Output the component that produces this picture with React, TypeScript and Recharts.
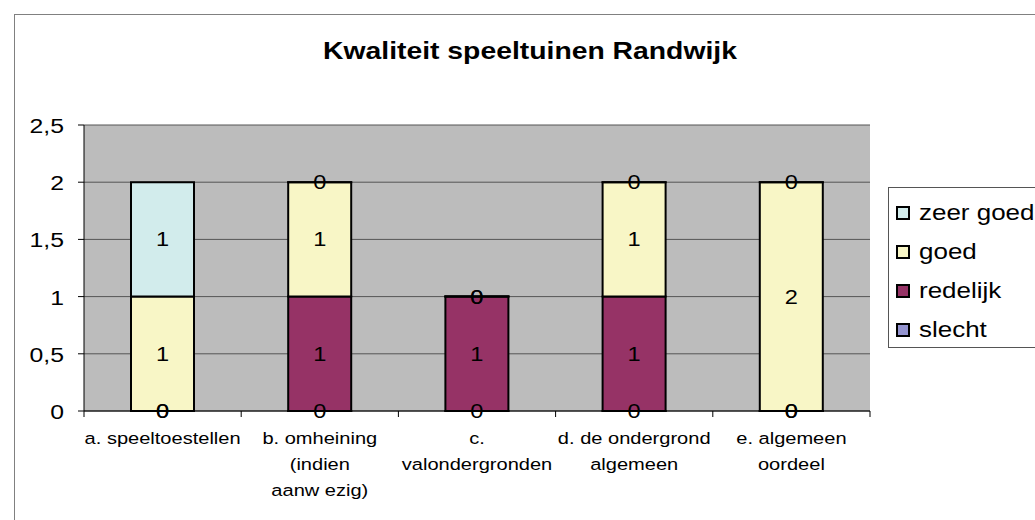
import { BarChart, Bar, CartesianGrid, XAxis, YAxis, LabelList } from "recharts";

const CATEGORIES = [
    "a. speeltoestellen",
    "b. omheining (indien aanw ezig)",
    "c. valondergronden",
    "d. de ondergrond algemeen",
    "e. algemeen oordeel",
]

// wrapped the same way as the picture
const CATEGORY_LINES = [
    ["a. speeltoestellen"],
    ["b. omheining", "(indien", "aanw ezig)"],
    ["c.", "valondergronden"],
    ["d. de ondergrond", "algemeen"],
    ["e. algemeen", "oordeel"],
]

const SLECHT = [0, 0, 0, 0, 0]
const REDELIJK = [0, 1, 1, 1, 0]
const GOED = [1, 1, 0, 1, 2]
const ZEER_GOED = [1, 0, 0, 0, 0]

const Y_TICKS = [0, 0.5, 1, 1.5, 2, 2.5]

const SERIES = [
    { key: "slecht", values: SLECHT, color: "#9494D0" },
    { key: "redelijk", values: REDELIJK, color: "#963366" },
    { key: "goed", values: GOED, color: "#F8F6C6" },
    { key: "zeer goed", values: ZEER_GOED, color: "#D2ECEC" },
]

const FONT = "'Liberation Sans', Arial, sans-serif"
// the scanned original is a bit stretched sideways
const SX = 1.18

const chartData = CATEGORIES.map((name, i) => {
    const row: Record<string, string | number> = { name, idx: i }
    for (const s of SERIES) row[s.key] = s.values[i]
    return row
})

function WideText({ x, y, size, anchor, children }: any) {
    return (
        <g transform={`translate(${x},${y}) scale(${SX},1)`}>
            <text x={0} y={0} textAnchor={anchor} fontSize={size} fontFamily={FONT} fill="#000">{children}</text>
        </g>
    )
}

function CategoryTick(props: any) {
    const { x, y, payload, index } = props
    const i = payload.index ?? index
    const lines = CATEGORY_LINES[i] || [payload.value]
    const half = payload.offset ?? 78.6
    return (
        <g>
            <line x1={x - half} x2={x - half} y1={y - 8} y2={y - 2} stroke="#000" />
            {i === CATEGORIES.length - 1 ?
                <line x1={x + half} x2={x + half} y1={y - 8} y2={y - 2} stroke="#000" /> : <></>}
            {lines.map((line: string, k: number) =>
                <WideText key={k} x={x} y={y + 25 + k * 26} size={17} anchor="middle">{line}</WideText>
            )}
        </g>
    )
}

function ValueTick(props: any) {
    const { x, y, payload } = props
    return <WideText x={x} y={y + 8} size={21} anchor="end">{String(payload.value).replace(".", ",")}</WideText>
}

function SegmentLabel(props: any) {
    const { x, y, width, height, value } = props
    return <WideText x={x + width / 2} y={y + height / 2 + 7} size={20} anchor="middle">{value}</WideText>
}

export default function App() {
    return (
        <div style={{ position: "absolute", left: 0, top: 0, width: 1035, height: 520, background: "#fff", overflow: "hidden", fontFamily: FONT }}>
            <div style={{ position: "absolute", left: 14, top: 14, width: 1100, height: 600, border: "1px solid #808080" }} />
            <div style={{ position: "absolute", left: 0, width: 1060, top: 37, textAlign: "center", fontSize: 24, fontWeight: "bold", color: "#000", transform: `scaleX(${SX})` }}>
                Kwaliteit speeltuinen Randwijk
            </div>
            <div style={{ position: "absolute" }}>
                <BarChart
                    width={1035}
                    height={520}
                    data={chartData}
                    margin={{ top: 125, right: 165, left: 0, bottom: 29 }}
                    barSize={63}
                >
                    <CartesianGrid vertical={false} stroke="#555" fill="#BCBCBC" fillOpacity={1} />
                    <XAxis
                        dataKey="name"
                        height={80}
                        axisLine={{ stroke: "#000" }}
                        tickLine={false}
                        tick={<CategoryTick />}
                        interval={0}
                    />
                    <YAxis
                        width={84}
                        domain={[0, 2.5]}
                        ticks={Y_TICKS}
                        axisLine={{ stroke: "#000" }}
                        tickLine={{ stroke: "#000" }}
                        tickSize={6}
                        tickMargin={14}
                        tick={<ValueTick />}
                    />
                    {SERIES.map((s) =>
                        <Bar key={s.key} dataKey={s.key} stackId="a" fill={s.color} stroke="#000" strokeWidth={2} minPointSize={0.01} isAnimationActive={false}>
                            <LabelList dataKey={s.key} content={<SegmentLabel />} />
                        </Bar>
                    )}
                </BarChart>
            </div>
            <div style={{ position: "absolute", left: 888, top: 187, width: 170, height: 159, border: "1px solid #555", background: "#fff" }}>
                {[...SERIES].reverse().map((s, i) =>
                    <div key={s.key} style={{ position: "absolute", left: 7, top: 12 + i * 39, height: 26, display: "flex", alignItems: "center", fontSize: 22, color: "#000", whiteSpace: "nowrap" }}>
                        <span style={{ width: 10, height: 10, background: s.color, border: "2px solid #000", marginRight: 9, display: "inline-block" }} />
                        <span style={{ display: "inline-block", transform: `scaleX(${SX})`, transformOrigin: "left center" }}>{s.key}</span>
                    </div>
                )}
            </div>
        </div>
    )
}
